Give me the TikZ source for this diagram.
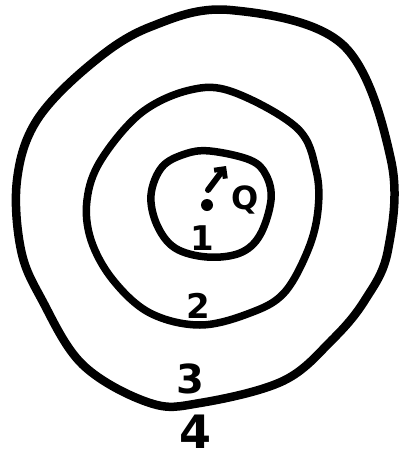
\documentclass[tikz,border=0pt]{standalone}
\usepackage{fontspec}
\setsansfont{DejaVu Sans}
\usetikzlibrary{arrows.meta}

\begin{document}
\begin{tikzpicture}[x=1pt,y=-1pt,
  ring/.style={line width=#1,line join=round},
  lbl/.style={font=\sffamily\bfseries\fontsize{#1}{#1}\selectfont,inner sep=0pt}]
\useasboundingbox (0,0) rectangle (409,466);
% outer ring
\draw[ring=8.5pt] plot[smooth cycle,tension=0.6] coordinates {
  (230,10) (343,45) (391,160) (388,250) (365,300) (332,340) (283,381)
  (200,403) (150,403) (83,365) (42,300) (21,250) (17,180) (37,120) (91,64) (150,27)};
% middle ring
\draw[ring=7.5pt] plot[smooth cycle,tension=0.6] coordinates {
  (190,90) (233,92) (297,128) (316,170) (318,210) (308,250) (284,293)
  (250,313) (200,325) (150,313) (113,280) (91,240) (87,200) (101,160) (141,113)};
% inner ring
\draw[ring=7.5pt] plot[smooth cycle,tension=0.6] coordinates {
  (210,151) (250,160) (266,175) (271,200) (260,235) (240,253)
  (207,257) (175,248) (157,225) (151,195) (162,167) (185,154)};
\node[circle,fill,inner sep=0pt,minimum size=12pt] (dot) at (207,205) {};
\coordinate (tip) at (226,166);
\draw[line width=6pt,line cap=round,-{Straight Barb[length=7pt,width=14pt,line width=5pt]}]
  (208,190) -- (tip);
\node[lbl=32] (q) at (245,200) {Q};
\foreach \n/\x/\y/\s in {1/202/238/34, 2/198/306/34, 3/190/379/40, 4/196/432/46} {
  \node[lbl=\s] (l\n) at (\x,\y) {\n};
}
\end{tikzpicture}
\end{document}
